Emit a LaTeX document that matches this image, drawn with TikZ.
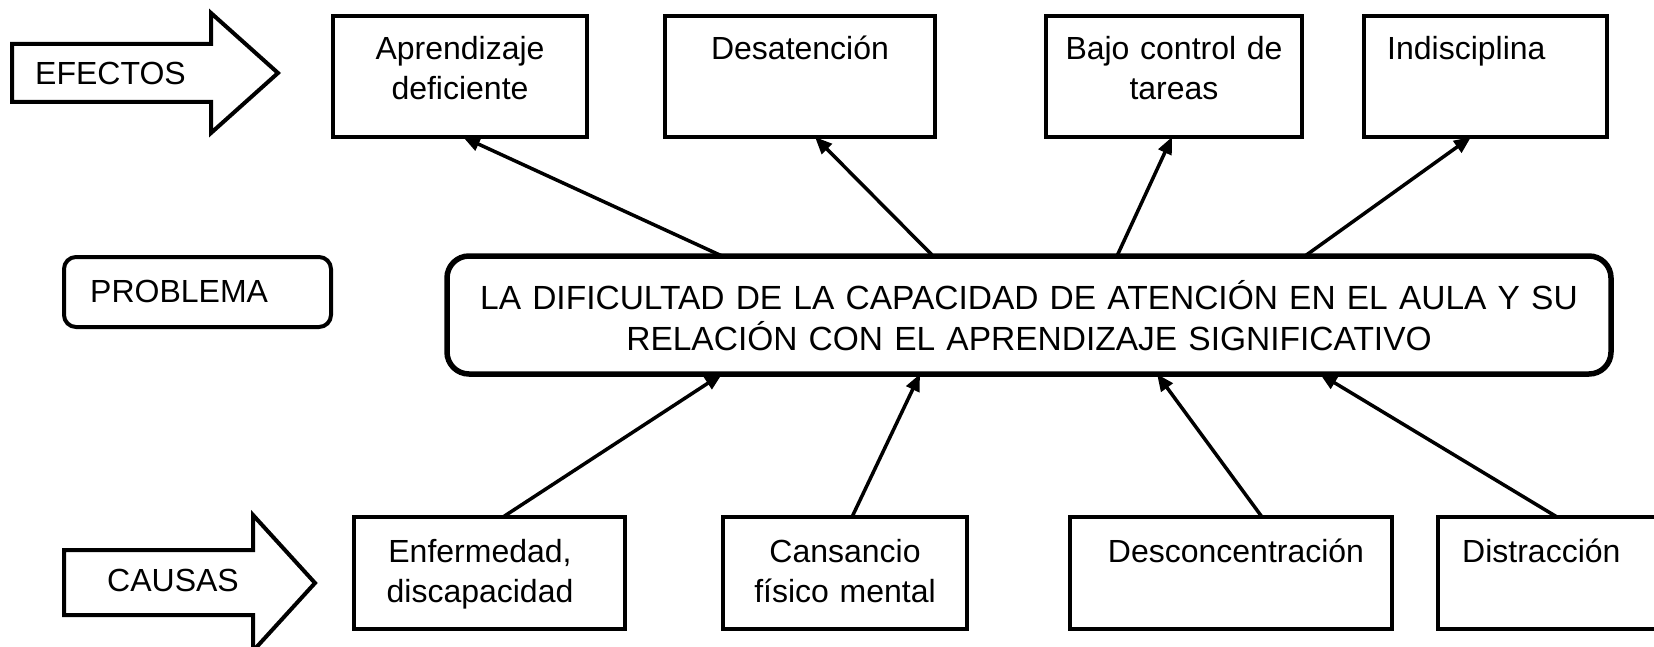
\documentclass[tikz,border=0pt]{standalone}
\usepackage{fontspec}
\setmainfont{Liberation Sans}
\usetikzlibrary{arrows.meta}
\begin{document}
\begin{tikzpicture}[x=1pt,y=-1pt,
  box/.style={draw, line width=4pt, rectangle, inner sep=0pt, outer sep=0pt, anchor=north west},
  pbox/.style={draw, line width=4pt, rounded corners=12pt, inner sep=0pt, outer sep=0pt, anchor=north west},
  mainbox/.style={draw, line width=5.5pt, rounded corners=22pt, inner sep=0pt, outer sep=0pt, anchor=north west},
  txt/.style={inner sep=0pt, font=\fontsize{32}{40}\selectfont, anchor=base},
  ctxt/.style={txt, text width=320pt, align=center},
  conn/.style={line width=3.5pt, -{Triangle[length=17pt,width=14pt]}},
  bigarrow/.style={draw, line width=4pt, line join=miter, fill=white}]
\useasboundingbox (0,0) rectangle (1654,647);
\clip (0,0) rectangle (1654,647);

% big arrows
\draw[bigarrow] (12,44) -- (211,44) -- (211,13) -- (278,73) -- (211,133) -- (211,102) -- (12,102) -- cycle;
\node[txt, anchor=base west] (eft) at (35,85) {EFECTOS};
\draw[bigarrow] (64,550) -- (253,550) -- (253,515) -- (315,583) -- (253,651) -- (253,615) -- (64,615) -- cycle;
\node[txt, anchor=base west] (cat) at (107,591) {CAUSAS};

% effects
\node[box, minimum width=254pt, minimum height=121pt] (e1) at (333,16) {};
\node[box, minimum width=270pt, minimum height=121pt] (e2) at (665,16) {};
\node[box, minimum width=256pt, minimum height=121pt] (e3) at (1046,16) {};
\node[box, minimum width=243pt, minimum height=121pt] (e4) at (1364,16) {};
\node[ctxt] (e1t) at (460,60) {Aprendizaje\\deficiente};
\node[ctxt] (e2t) at (800,60) {Desatención};
\node[ctxt] (e3t) at (1174,60) {Bajo control de\\tareas};
\node[txt, anchor=base west] (e4t) at (1387,60) {Indisciplina};

% problem
\node[pbox, minimum width=267pt, minimum height=70pt] (pb) at (64,257) {};
\node[txt, anchor=base west] (pbt) at (90,302) {PROBLEMA};
\node[mainbox, minimum width=1164pt, minimum height=118pt] (main) at (447,256) {};
\node[txt, font=\fontsize{33.5}{41}\selectfont, text width=1150pt, align=center] (maint) at (1029,309)
  {LA DIFICULTAD DE LA CAPACIDAD DE ATENCIÓN EN EL AULA Y SU\\RELACIÓN CON EL APRENDIZAJE SIGNIFICATIVO};

% causes
\node[box, minimum width=271pt, minimum height=112pt] (c1) at (354,517) {};
\node[box, minimum width=244pt, minimum height=112pt] (c2) at (723,517) {};
\node[box, minimum width=322pt, minimum height=112pt] (c3) at (1070,517) {};
\node[box, minimum width=300pt, minimum height=112pt] (c4) at (1438,517) {};
\node[ctxt] (c1t) at (480,562) {Enfermedad,\\discapacidad};
\node[ctxt] (c2t) at (845,562) {Cansancio\\físico mental};
\node[ctxt] (c3t) at (1236,562) {Desconcentración};
\node[txt, anchor=base west] (c4t) at (1462,562) {Distracción};

% connectors to effects
\draw[conn] ([xshift=-307pt]main.north) -- ([xshift=3pt]e1.south);
\draw[conn] ([xshift=-96pt]main.north) -- ([xshift=15pt]e2.south);
\draw[conn] ([xshift=88pt]main.north) -- ([xshift=-2pt]e3.south);
\draw[conn] ([xshift=276pt]main.north) -- ([xshift=-14.5pt]e4.south);
% connectors from causes
\draw[conn] ([xshift=13.5pt]c1.north) -- ([xshift=-307pt]main.south);
\draw[conn] ([xshift=7pt]c2.north) -- ([xshift=-109pt]main.south);
\draw[conn] ([xshift=31pt]c3.north) -- ([xshift=128pt]main.south);
\draw[conn] ([xshift=-31pt]c4.north) -- ([xshift=291pt]main.south);
\end{tikzpicture}
\end{document}
